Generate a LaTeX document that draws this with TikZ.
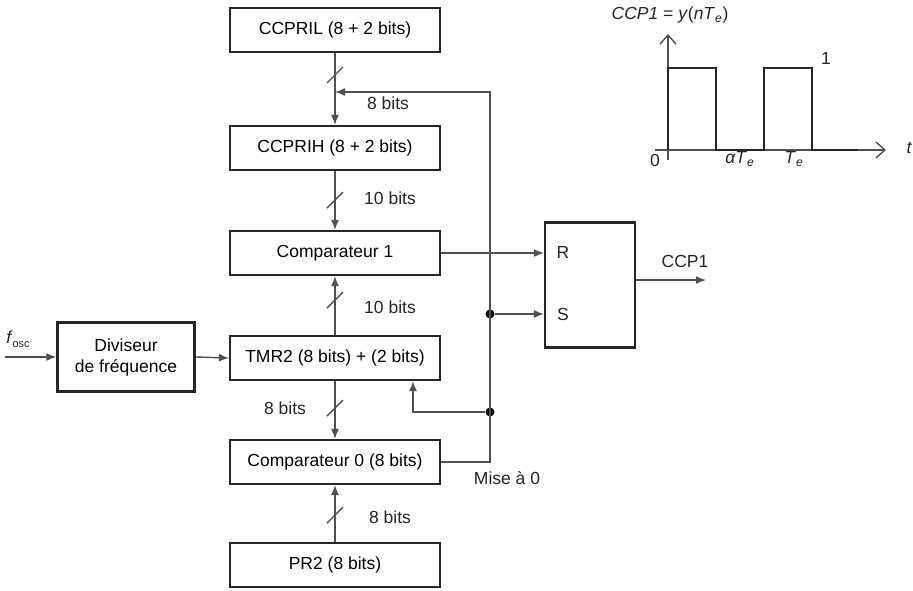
\documentclass[tikz,border=0pt]{standalone}
\usepackage{fontspec}
\setmainfont{Liberation Sans}
\usetikzlibrary{arrows.meta,calc}
\definecolor{edge}{HTML}{262626}
\definecolor{wirec}{HTML}{505050}

\begin{document}
\begin{tikzpicture}[
  x=1pt, y=-1pt,
  >={Latex[length=10pt,width=8pt]},
  blk/.style={draw=edge, line width=2.2pt, minimum width=210pt, minimum height=44pt, font=\fontsize{17.5}{21}\selectfont},
  wire/.style={draw=wirec, line width=1.4pt},
  lbl/.style={font=\fontsize{17.5}{21}\selectfont, text=edge},
  busmark/.style={draw=wirec, line width=1.4pt},
  dot/.style={circle, fill=black, inner sep=0pt, minimum size=9pt},
]
\useasboundingbox (0,0) rectangle (913,590);

% blocks of the PWM module
\node[blk] (ccpril) at (335,30) {CCPRIL (8 + 2 bits)};
\node[blk] (ccprih) at (335,148) {CCPRIH (8 + 2 bits)};
\node[blk] (comp1) at (335,253) {Comparateur 1};
\node[blk] (tmr2) at (335,358) {TMR2 (8 bits) + (2 bits)};
\node[blk] (comp0) at (335,462) {Comparateur 0 (8 bits)};
\node[blk] (pr2) at (335,565) {PR2 (8 bits)};
\node[blk, minimum width=137pt, minimum height=69pt, align=center] (div) at (126,357) {Diviseur\\de fréquence};
\node[blk, minimum width=90pt, minimum height=125pt] (rs) at (590,285) {};
\node[lbl] (rlbl) at (563,252) {R};
\node[lbl] (slbl) at (563,314) {S};

% buses
\draw[wire,->] (ccpril.south) -- (ccprih.north);
\draw[wire,->] (ccprih.south) -- (comp1.north);
\draw[wire,->] (tmr2.north) -- (comp1.south);
\draw[wire,->] (tmr2.south) -- (comp0.north);
\draw[wire,->] (pr2.north) -- (comp0.south);
\foreach \y in {75,200,300,408,515}
  \draw[busmark] (335,\y) ++(-8,8) -- ++(16,-16);

\node[lbl] (b1) at (388,103) {8 bits};
\node[lbl] (b2) at (390,198) {10 bits};
\node[lbl] (b3) at (390,307) {10 bits};
\node[lbl] (b4) at (285,408) {8 bits};
\node[lbl] (b5) at (390,517) {8 bits};

% reset loop
\coordinate (busin) at (335,92);
\coordinate (corner) at (490,92);
\node[dot] (jS) at (490,314) {};
\node[dot] (jT) at (490,412) {};
\draw[wire,->] (comp0.east) -| (corner) -- (busin);
\draw[wire,->] (jS) -- (rs.west |- jS);
\draw[wire,->] (jT) -| ($(tmr2.south)+(78,0)$);
\draw[wire,->] (comp1.east) -- (rs.west |- comp1.east);
\node[lbl] (mise) at (507,478) {Mise à 0};

% clock input and output
\coordinate (fin) at (5,357);
\draw[wire,->] (fin) -- (div.west);
\node[lbl] (fosc) at (18,339) {\textit{f}\raisebox{-4pt}{\fontsize{11}{11}\selectfont osc}};
\draw[wire,->] (div.east) -- (tmr2.west);
\coordinate (ccpout) at (706,280);
\draw[wire,->] (rs.east |- ccpout) -- (ccpout);
\node[lbl] (ccp) at (685,261) {CCP1};

% waveform
\draw[wire, -{Straight Barb[length=9pt,width=16pt]}] (655,150) -- (886,150);
\draw[wire, -{Straight Barb[length=9pt,width=16pt]}] (668,160) -- (668,34);
\draw[edge, line width=2.4pt] (668,150) -- (668,68) -- (716,68) -- (716,150) -- (764,150)
  -- (764,68) -- (812,68) -- (812,150) -- (858,150);
\node[lbl] (ylab) at (670,15) {\textit{CCP1} = \textit{y}(\textit{nT}\textsubscript{\textit{e}})};
\node[lbl] (one) at (826,58) {1};
\node[lbl] (zero) at (655,160) {0};
\node[lbl] (aT) at (740,159) {\textit{αT}\textsubscript{\textit{e}}};
\node[lbl] (Te) at (794,159) {\textit{T}\textsubscript{\textit{e}}};
\node[lbl, anchor=west] (tlab) at (903,148) {\textit{t}};

\end{tikzpicture}
\end{document}
